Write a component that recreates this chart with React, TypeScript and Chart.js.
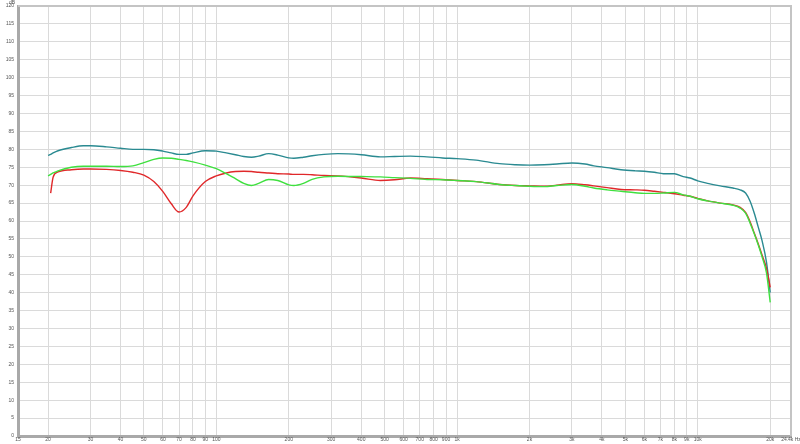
import React, { useEffect, useRef } from "react";
import { Chart, registerables } from "chart.js";

Chart.register(...registerables);

// Frequency points (Hz)
const FREQS = [
  20, 20.5, 21, 22, 25, 28, 30, 35, 40, 45, 50, 55, 60, 65, 70, 75, 80, 90, 100,
  110, 120, 130, 140, 150, 165, 180, 200, 210, 230, 250, 280, 320, 400, 480, 550,
  640, 750, 870, 1000, 1200, 1500, 1750, 2000, 2300, 2600, 3000, 3400, 3700, 4200,
  4800, 5500, 6000, 6600, 7200, 8000, 8700, 9300, 10000, 11000, 12400, 14000, 15000,
  15800, 16500, 17200, 17800, 18500, 19300, 20000,
];

const TEAL = [
  78.3, 78.6, 79.0, 79.6, 80.5, 81.0, 81.0, 80.7, 80.3, 80.0, 80.0, 79.9, 79.5, 79.0, 78.6, 78.6, 79.0, 79.6, 79.5,
  79.0, 78.5, 78.0, 77.8, 78.1, 78.8, 78.4, 77.6, 77.5, 77.8, 78.2, 78.6, 78.8, 78.5, 77.9, 78.0,
  78.1, 77.9, 77.6, 77.4, 77.0, 76.0, 75.7, 75.6, 75.7, 75.9, 76.2, 75.9, 75.4, 74.9,
  74.3, 74.0, 73.9, 73.6, 73.2, 73.2, 72.4, 72.0, 71.2, 70.5, 69.8, 69.2, 68.7,
  67.8, 65.5, 62.0, 58.5, 54.5, 48.5, 40.0,
];

const RED: (number | null)[] = [
  null, 67.8, 72.3, 73.7, 74.3, 74.5, 74.5, 74.4, 74.1, 73.6, 72.8, 71.0, 68.2, 64.8, 62.5, 63.8, 67.0, 71.0, 72.6,
  73.4, 73.8, 73.9, 73.8, 73.6, 73.4, 73.2, 73.1, 73.0, 73.0, 72.9, 72.7, 72.6, 72.0, 71.3, 71.5,
  72.0, 71.8, 71.6, 71.3, 71.0, 70.2, 69.9, 69.8, 69.7, 70.0, 70.4, 70.1, 69.8, 69.3,
  68.8, 68.7, 68.6, 68.3, 68.0, 67.6, 67.2, 66.9, 66.3, 65.6, 65.0, 64.5, 63.8,
  62.4, 59.8, 56.5, 53.8, 50.5, 46.8, 41.5,
];

const GREEN = [
  72.6, 73.0, 73.4, 74.0, 75.0, 75.3, 75.3, 75.3, 75.2, 75.4, 76.3, 77.2, 77.6, 77.5, 77.2, 76.9, 76.5, 75.6, 74.6,
  73.2, 71.8, 70.5, 69.9, 70.5, 71.6, 71.3, 70.1, 69.9, 70.5, 71.6, 72.3, 72.5, 72.4, 72.3, 72.1,
  71.9, 71.6, 71.5, 71.3, 71.0, 70.2, 69.9, 69.7, 69.6, 69.9, 70.2, 69.7, 69.2, 68.7,
  68.3, 67.9, 67.7, 67.7, 67.8, 68.0, 67.3, 66.9, 66.2, 65.6, 65.0, 64.4, 63.6,
  62.2, 59.4, 56.3, 53.5, 50.0, 45.5, 37.3,
];

const X_TICKS = [
  15, 20, 30, 40, 50, 60, 70, 80, 90, 100, 200, 300, 400, 500, 600, 700, 800, 900,
  1000, 2000, 3000, 4000, 5000, 6000, 7000, 8000, 9000, 10000, 20000, 24400,
];
const X_LABELS = [
  "15", "20", "30", "40", "50", "60", "70", "80", "90", "100", "200", "300", "400", "500",
  "600", "700", "800", "900", "1k", "2k", "3k", "4k", "5k", "6k", "7k", "8k", "9k", "10k",
  "20k", "24.4k Hz",
];

const Y_MIN = 0;
const Y_MAX = 120;
const Y_STEP = 5;
const Y_UNIT = "dB";

const FONT = "'Liberation Sans', Arial, sans-serif";

export default function App() {
  const ref = useRef<HTMLCanvasElement>(null);

  useEffect(() => {
    document.body.style.margin = "0";
    const canvas = ref.current;
    if (!canvas) return;

    const pts = (arr: (number | null)[]) =>
      FREQS.map((f, i) => ({ x: f, y: arr[i] })).filter((p) => p.y !== null) as { x: number; y: number }[];

    const frame = {
      id: "frame",
      beforeDatasetsDraw(chart: any) {
        const { ctx, chartArea: a } = chart;
        ctx.save();
        ctx.strokeStyle = "#c4c4c4";
        ctx.lineWidth = 2;
        ctx.beginPath();
        ctx.moveTo(a.left, a.top);
        ctx.lineTo(a.right, a.top);
        ctx.lineTo(a.right, a.bottom);
        ctx.stroke();
        ctx.fillStyle = "#555";
        ctx.font = `5px ${FONT}`;
        ctx.textAlign = "center";
        ctx.textBaseline = "top";
        ctx.fillText(Y_UNIT, 12, 0);
        ctx.restore();
      },
    };

    const ds = (label: string, data: (number | null)[], color: string) => ({
      label,
      data: pts(data),
      borderColor: color,
      backgroundColor: color,
      borderWidth: 1.4,
      pointRadius: 0,
      fill: false,
      cubicInterpolationMode: "monotone" as const,
    });

    const chart = new Chart(canvas, {
      type: "line",
      data: {
        datasets: [
          ds("Green", GREEN, "#3fe03f"),
          ds("Red", RED, "#e0282a"),
          ds("Teal", TEAL, "#2a8a91"),
        ],
      },
      options: {
        animation: false,
        responsive: false,
        devicePixelRatio: 1,
        parsing: false as any,
        layout: { padding: { top: 6, right: 9, left: 0, bottom: 0 } },
        plugins: { legend: { display: false }, tooltip: { enabled: false } },
        scales: {
          x: {
            type: "logarithmic",
            min: 15,
            max: 24400,
            afterBuildTicks: (scale: any) => {
              scale.ticks = X_TICKS.map((v) => ({ value: v }));
            },
            afterFit: (scale: any) => {
              scale.height = 8;
              scale.paddingLeft = 0;
              scale.paddingRight = 0;
            },
            ticks: {
              autoSkip: false,
              maxRotation: 0,
              minRotation: 0,
              padding: 1,
              color: "#555",
              font: { family: FONT, size: 5 },
              callback: (_v: any, i: number) => X_LABELS[i],
            },
            grid: { color: "#dadada", lineWidth: 1, drawTicks: false },
            border: { display: true, color: "#a9a9a9", width: 3 },
          },
          y: {
            min: Y_MIN,
            max: Y_MAX,
            afterFit: (scale: any) => {
              scale.width = 18;
              scale.paddingTop = 0;
              scale.paddingBottom = 0;
            },
            ticks: {
              stepSize: Y_STEP,
              autoSkip: false,
              padding: 4,
              color: "#555",
              font: { family: FONT, size: 5 },
            },
            grid: { color: "#dadada", lineWidth: 1, drawTicks: false },
            border: { display: true, color: "#a9a9a9", width: 3 },
          },
        },
      },
      plugins: [frame],
    });

    return () => chart.destroy();
  }, []);

  return (
    <div style={{ position: "absolute", left: 0, top: 0, width: 800, height: 444 }}>
      <canvas ref={ref} width={800} height={444} style={{ display: "block", width: 800, height: 444 }} />
    </div>
  );
}
